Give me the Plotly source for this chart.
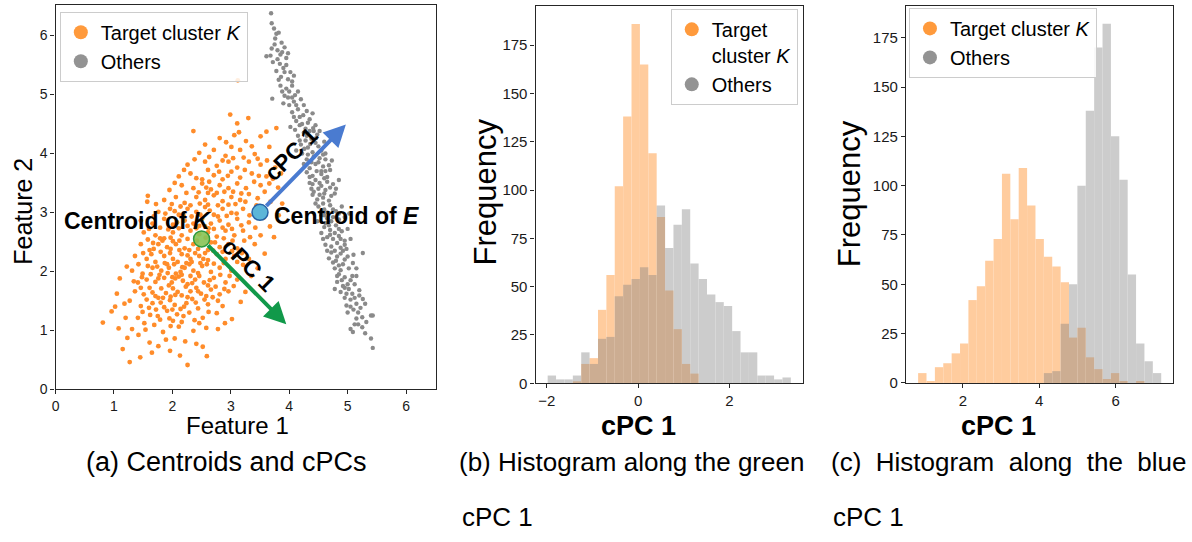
import numpy as np
import plotly.graph_objects as go

W, H = 1192, 542
FONT = "Liberation Sans, Arial, Helvetica, sans-serif"

# ---------------- panel (a) data ----------------
orange_points = [
    (1.27,0.46),(2.26,0.41),(1.45,0.54),(2.59,0.56),(1.15,0.68),(0.81,1.13),(0.96,1.32),(1.08,1.03),(1.05,1.62),(1.10,1.88),
    (1.96,0.65),(2.22,0.81),(1.23,0.87),(1.42,0.92),(1.76,0.73),(2.04,0.86),(1.61,0.79),(2.41,0.77),(1.89,0.84),
    (2.58,1.04),(1.54,1.01),(1.84,0.97),(2.11,1.06),(2.36,0.99),(1.31,1.02),(1.69,1.09),(2.46,1.12),(1.97,1.07),
    (3.02,1.19),(1.41,1.21),(1.62,1.26),(1.79,1.18),(2.01,1.16),(2.19,1.24),(2.52,1.21),(2.76,1.29),(1.49,1.31),(1.91,1.33),(2.29,1.30),(2.08,1.27),(1.72,1.35),
    (1.27,1.50),(3.17,1.48),(1.46,1.41),(1.66,1.46),(1.86,1.39),(2.04,1.43),(2.24,1.46),(2.44,1.37),(2.61,1.44),(2.86,1.41),(1.56,1.52),(1.96,1.51),(2.34,1.53),(2.69,1.56),(2.14,1.36),(1.76,1.55),
    (1.36,1.66),(1.51,1.61),(1.71,1.58),(1.89,1.63),(2.01,1.71),(2.16,1.59),(2.31,1.66),(2.49,1.62),(2.66,1.69),(2.81,1.61),(2.96,1.66),(1.61,1.72),(1.81,1.71),(2.41,1.72),(2.09,1.65),(1.97,1.57),(2.23,1.74),
    (1.41,1.81),(1.56,1.86),(1.71,1.82),(1.86,1.89),(1.99,1.81),(2.11,1.91),(2.26,1.78),(2.39,1.86),(2.54,1.81),(2.71,1.89),(2.91,1.81),(3.11,1.86),(1.94,1.76),(2.31,1.92),(2.61,1.76),(2.18,1.84),(1.78,1.94),(2.05,1.88),
    (1.31,2.01),(1.49,1.96),(1.66,2.06),(1.81,2.01),(1.94,2.06),(2.06,1.96),(2.21,2.06),(2.36,2.01),(2.51,2.09),(2.66,1.99),(2.81,2.06),(3.01,2.01),(3.21,2.11),(1.91,2.12),(2.29,2.12),(2.59,2.12),(2.14,1.99),(1.58,2.09),(2.44,1.97),
    (1.36,2.26),(1.56,2.21),(1.71,2.16),(1.86,2.26),(2.01,2.21),(2.16,2.29),(2.31,2.21),(2.46,2.26),(2.61,2.19),(2.76,2.29),(2.91,2.21),(3.06,2.26),(3.31,2.21),(2.09,2.16),(2.39,2.31),(1.96,2.31),(2.56,2.31),(2.24,2.14),(1.64,2.29),
    (1.46,2.46),(1.61,2.36),(1.76,2.46),(1.91,2.41),(2.06,2.46),(2.21,2.39),(2.36,2.46),(2.66,2.49),(2.81,2.41),(2.96,2.46),(3.11,2.39),(3.41,2.46),(2.29,2.36),(2.61,2.36),(2.01,2.51),(1.83,2.52),(3.23,2.52),
    (1.51,2.66),(1.71,2.61),(1.86,2.56),(2.01,2.66),(2.16,2.61),(2.31,2.69),(2.46,2.63),(2.61,2.66),(2.76,2.59),(2.91,2.69),(3.06,2.61),(3.21,2.69),(3.51,2.61),(2.41,2.73),(2.71,2.72),(3.67,2.76),(1.93,2.71),
    (1.46,2.86),(1.66,2.81),(1.86,2.89),(2.01,2.79),(2.21,2.86),(2.36,2.81),(2.51,2.89),(2.66,2.81),(2.81,2.86),(2.96,2.79),(3.11,2.89),(3.31,2.83),(3.56,2.91),(2.11,2.73),(2.56,2.76),(3.82,2.95),
    (1.57,3.18),(1.76,3.01),(1.96,3.06),(2.11,2.96),(2.26,3.06),(2.41,3.01),(2.56,3.09),(2.71,2.96),(2.86,3.06),(3.01,2.99),(3.21,3.06),(3.44,3.12),(2.61,3.13),(2.31,3.12),(3.68,3.18),
    (1.58,3.28),(1.86,3.21),(2.06,3.26),(2.21,3.16),(2.41,3.26),(2.56,3.21),(2.71,3.29),(2.86,3.19),(3.01,3.26),(3.16,3.21),(3.31,3.31),(2.61,3.33),(2.96,3.13),(3.58,3.35),
    (1.95,3.38),(2.16,3.46),(2.36,3.41),(2.51,3.49),(2.66,3.39),(2.81,3.46),(2.96,3.41),(3.11,3.49),(3.26,3.41),(3.51,3.46),(2.76,3.33),(3.81,3.42),
    (2.11,3.61),(2.31,3.66),(2.51,3.56),(2.71,3.63),(2.86,3.56),(3.01,3.69),(3.16,3.59),(3.36,3.66),(3.61,3.61),(2.61,3.72),(3.86,3.66),
    (2.26,3.81),(2.56,3.86),(2.76,3.79),(2.96,3.86),(3.11,3.76),(3.31,3.86),(3.51,3.81),(3.76,3.76),
    (2.46,4.01),(2.71,4.06),(2.91,3.96),(3.16,4.06),(3.41,3.99),(3.66,4.11),(3.01,4.11),
    (2.81,4.26),(3.06,4.31),(3.26,4.21),(3.51,4.29),(3.78,4.43),(3.61,4.37),(2.36,4.38),
    (2.99,4.66),(3.30,4.60),(3.12,5.24),(3.11,4.51),
    (1.52,1.12),(1.75,1.24),(1.95,1.20),(2.16,1.14),(2.38,1.17),(2.62,1.31),(1.60,1.38),(1.80,1.47),(2.00,1.35),(2.20,1.40),(2.40,1.47),(2.55,1.52),(2.78,1.50),
    (1.46,1.72),(1.66,1.64),(1.84,1.55),(2.05,1.60),(2.26,1.56),(2.44,1.66),(2.58,1.58),(2.74,1.74),(2.89,1.70),(3.05,1.75),
    (1.48,1.90),(1.63,1.95),(1.76,1.88),(1.92,1.97),(2.00,1.90),(2.16,1.94),(2.34,1.80),(2.46,1.92),(2.64,1.85),(2.82,1.94),(2.98,1.92),
    (1.42,2.12),(1.74,2.08),(1.87,2.14),(2.03,2.12),(2.17,2.07),(2.33,2.16),(2.48,2.14),(2.71,2.13),(2.88,2.14),(3.11,2.16),
    (1.50,2.31),(1.68,2.38),(1.80,2.33),(1.97,2.38),(2.12,2.36),(2.26,2.27),(2.44,2.38),(2.53,2.21),(2.70,2.35),(2.86,2.33),(3.02,2.34),(3.19,2.31),
    (1.58,2.54),(1.67,2.48),(1.79,2.56),(1.97,2.57),(2.12,2.52),(2.26,2.55),(2.42,2.52),(2.57,2.57),(2.73,2.49),(2.88,2.56),(3.03,2.52),(3.33,2.58),
    (1.60,2.72),(1.79,2.74),(2.08,2.83),(2.26,2.77),(2.46,2.77),(2.62,2.73),(2.86,2.74),(3.02,2.72),(3.18,2.78),(3.42,2.74),
    (1.68,2.93),(1.88,2.98),(2.04,3.02),(2.19,2.95),(2.33,2.93),(2.48,2.96),(2.64,3.03),(2.78,2.93),(2.93,2.94),(3.10,2.98),(3.32,2.95),
    (1.72,3.14),(1.99,3.14),(2.14,3.10),(2.47,3.15),(2.78,3.12),(3.08,3.14),(3.25,3.18),(3.46,3.24),
    (2.04,3.50),(2.24,3.33),(2.45,3.34),(2.58,3.42),(2.89,3.35),(3.04,3.35),(3.18,3.32),(3.40,3.52),(3.66,3.49),
    (2.20,3.72),(2.41,3.58),(2.63,3.52),(2.80,3.69),(2.95,3.62),(3.24,3.72),(3.48,3.62),(3.72,3.57),
    (2.38,3.90),(2.63,3.94),(2.86,3.88),(3.04,3.92),(3.22,3.93),(3.46,3.91),(3.62,3.88),
    (2.56,4.15),(2.92,4.19),(3.36,4.12),(3.14,4.36),
    (1.20,1.21),(1.18,1.45),(1.34,1.83),(1.22,2.08),(1.02,1.40),(1.65,0.62),(2.13,0.57),(2.52,0.72),(2.78,1.02),(2.90,1.12),
    (3.25,1.65),(3.35,1.92),(3.46,2.05),(3.58,2.30),(3.74,2.58),(3.88,3.15),
]

gray_points = [
    (3.69,6.38),(3.70,6.21),(3.78,6.03),(3.82,6.05),(3.74,6.12),
    (3.87,5.88),(3.61,5.65),(3.68,5.66),(3.80,5.75),(3.92,5.80),(3.75,5.85),(3.85,5.68),(3.95,5.62),
    (3.84,5.52),(3.78,5.40),(3.90,5.45),(3.98,5.26),(4.02,5.38),(3.86,5.30),(3.72,5.55),(3.95,5.50),(4.05,5.22),(3.82,5.25),
    (4.10,4.99),(3.71,4.93),(3.95,5.10),(4.05,5.15),(3.98,4.95),(4.15,5.05),(3.90,4.85),(4.08,4.88),(4.20,4.92),(4.00,4.82),(3.88,5.05),
    (4.24,4.65),(4.41,4.43),(4.05,4.70),(4.15,4.75),(4.30,4.72),(4.12,4.55),(4.22,4.50),(4.35,4.58),(4.02,4.45),(4.28,4.42),(4.18,4.62),(4.40,4.68),(4.10,4.40),
    (4.15,4.30),(4.25,4.35),(4.38,4.25),(4.48,4.32),(4.20,4.15),(4.32,4.10),(4.45,4.18),(4.55,4.05),(4.12,4.05),(4.28,4.22),(4.40,4.02),(4.52,4.38),(4.35,4.38),(4.22,4.00),(4.60,4.20),
    (4.58,3.98),(4.30,3.90),(4.42,3.95),(4.50,3.85),(4.62,3.90),(4.35,3.75),(4.47,3.70),(4.58,3.78),(4.70,3.72),(4.25,3.82),(4.40,3.62),(4.55,3.65),(4.65,3.60),(4.38,3.85),(4.52,3.92),(4.73,3.88),
    (4.75,3.48),(4.35,3.50),(4.45,3.55),(4.55,3.45),(4.65,3.52),(4.42,3.35),(4.52,3.30),(4.62,3.38),(4.72,3.28),(4.80,3.40),(4.48,3.22),(4.58,3.25),(4.68,3.20),(4.38,3.40),(4.85,3.55),(4.60,3.58),
    (5.03,2.98),(4.50,3.10),(4.60,3.05),(4.70,3.12),(4.80,3.02),(4.55,2.95),(4.65,2.90),(4.75,2.92),(4.85,2.88),(4.48,2.85),(4.62,2.82),(4.90,3.10),(4.58,3.15),(4.72,2.85),(4.95,2.92),
    (4.60,2.75),(4.70,2.70),(4.80,2.78),(4.90,2.68),(4.65,2.58),(4.75,2.55),(4.85,2.60),(4.95,2.52),(4.62,2.45),(4.72,2.42),(4.82,2.48),(5.00,2.72),(4.55,2.65),(4.88,2.40),(5.05,2.55),
    (5.26,2.31),(5.09,2.14),(4.72,2.32),(4.82,2.25),(4.92,2.35),(4.75,2.15),(4.85,2.10),(4.95,2.20),(5.02,2.05),(4.68,2.22),(4.88,2.02),(5.10,2.28),(4.78,2.05),(4.98,2.38),
    (4.85,1.95),(4.95,1.90),(5.05,1.85),(4.82,1.82),(4.92,1.75),(5.02,1.70),(5.12,1.78),(4.88,1.65),(4.98,1.62),(5.15,1.92),(4.78,1.70),(5.20,1.68),
    (5.20,1.59),(5.26,1.53),(5.40,1.25),(4.98,1.42),(5.05,1.52),(5.15,1.45),(5.00,1.30),(5.10,1.35),(5.22,1.38),(5.15,1.20),(4.95,1.55),(5.30,1.45),
    (5.32,1.14),(5.40,0.86),(5.43,0.70),(5.43,1.25),(5.09,0.97),(5.25,1.05),(5.18,1.10),(5.30,0.95),(5.05,1.02),
    (3.76,5.95),(3.88,5.72),(3.70,5.78),(3.92,5.38),(3.80,5.60),(4.00,5.05),(4.08,5.32),(3.92,4.98),(4.12,4.82),(4.25,4.82),
    (4.18,4.48),(4.32,4.52),(4.08,4.62),(4.45,4.48),(4.30,4.30),(4.42,4.38),(4.18,4.22),(4.36,4.16),(4.50,4.12),(4.26,4.08),
    (4.46,4.26),(4.32,3.98),(4.45,3.82),(4.55,3.70),(4.68,3.80),(4.30,3.68),(4.62,3.70),(4.40,3.48),(4.50,3.40),(4.60,3.32),
    (4.70,3.42),(4.78,3.32),(4.52,3.50),(4.45,3.15),(4.55,3.02),(4.65,3.00),(4.75,3.05),(4.85,2.98),(4.68,2.78),(4.78,2.65),
    (4.58,2.55),(4.88,2.55),(4.70,2.62),(4.78,2.35),(4.88,2.30),(4.80,2.18),(4.92,2.12),(5.00,2.25),(4.82,1.92),(4.90,1.85),
    (5.00,1.78),(5.08,1.92),(4.95,1.72),(5.08,1.62),(5.12,1.55),(5.05,1.40),(5.18,1.30),(5.25,1.22),(5.12,1.10),(4.95,2.45),
    (4.60,2.95),(4.40,3.30),(4.35,3.60),(4.62,4.00),(4.05,4.95),(3.85,5.15),(3.98,5.70),(4.85,2.72),(4.65,2.35),(5.15,2.05),
]

centroid_K = (2.50, 2.55)
centroid_E = (3.50, 3.00)
green_cpc_tip = (3.95, 1.10)
blue_cpc_tip = (4.97, 4.49)

# ---------------- panel (b) data: histogram along the green cPC 1 ----------------
b_bin_start = -1.98
b_bin_width = 0.1836
b_orange_counts = [0, 0, 0, 1, 10, 13, 38, 56, 102, 138, 186, 165, 119, 86, 48, 28, 10, 5,
                   0, 0, 0, 0, 0, 0, 0, 0, 0, 0, 0]
b_gray_counts = [4, 2, 2, 4, 16, 10, 23, 24, 45, 51, 54, 60, 56, 92, 70, 82, 90, 62,
                 54, 46, 42, 40, 27, 16, 16, 4, 4, 2, 3]

# ---------------- panel (c) data: histogram along the blue cPC 1 ----------------
c_bin_start = 0.828
c_bin_width = 0.2195
c_orange_counts = [5, 1, 8, 10, 15, 20, 42, 49, 62, 73, 106, 83, 109, 90, 73, 64, 59, 51,
                   23, 28, 13, 7, 2, 5, 1, 0, 1, 0, 0]
c_gray_counts = [0, 0, 0, 0, 0, 0, 0, 0, 0, 0, 0, 0, 0, 0, 0, 5, 6, 30,
                 50, 100, 138, 170, 182, 125, 103, 55, 20, 11, 5]

hist_yticks = [0, 25, 50, 75, 100, 125, 150, 175]

# ---------------- styles ----------------
ORANGE_PT = "#ff8c2a"
GRAY_PT = "#8a8a8a"
ORANGE_LEG = "#ff9a3c"
GRAY_LEG = "#939393"
HIST_ORANGE = "#ff7f0e"
HIST_GRAY = "#808080"
GREEN = "#11994a"
BLUE = "#4a7bd0"
AXC = "#262626"


def px(v):
    return v / W


def py(v):
    return 1 - v / H


def centers(start, width, n):
    return start + width * (np.arange(n) + 0.5)


fig = go.Figure()

ox, oy = zip(*orange_points)
gx, gy = zip(*gray_points)
fig.add_trace(go.Scatter(x=ox, y=oy, mode="markers", showlegend=False,
                         marker=dict(size=4.8, color=ORANGE_PT, line=dict(width=0)),
                         xaxis="x", yaxis="y"))
fig.add_trace(go.Scatter(x=gx, y=gy, mode="markers", showlegend=False,
                         marker=dict(size=4.4, color=GRAY_PT, line=dict(width=0)),
                         xaxis="x", yaxis="y"))
fig.add_trace(go.Scatter(x=[centroid_K[0]], y=[centroid_K[1]], mode="markers", showlegend=False,
                         marker=dict(size=16, color="rgba(135,195,85,0.9)", line=dict(width=1.5, color="#2f9a3c")),
                         xaxis="x", yaxis="y"))
fig.add_trace(go.Scatter(x=[centroid_E[0]], y=[centroid_E[1]], mode="markers", showlegend=False,
                         marker=dict(size=16, color="#5db6d8", line=dict(width=1.5, color="#2662a6")),
                         xaxis="x", yaxis="y"))

# legend entries
for leg, ax, ay, tname in [("legend", "x", "y", "Target cluster <i>K</i>"),
                           ("legend2", "x2", "y2", "Target<br>cluster <i>K</i>"),
                           ("legend3", "x3", "y3", "Target cluster <i>K</i>")]:
    fig.add_trace(go.Scatter(x=[None], y=[None], mode="markers", name=tname, legend=leg,
                             marker=dict(size=14, color=ORANGE_LEG), xaxis=ax, yaxis=ay))
    fig.add_trace(go.Scatter(x=[None], y=[None], mode="markers", name="Others", legend=leg,
                             marker=dict(size=14, color=GRAY_LEG), xaxis=ax, yaxis=ay))

# histograms
n_b = len(b_gray_counts)
n_c = len(c_gray_counts)
fig.add_trace(go.Bar(x=centers(b_bin_start, b_bin_width, n_b), y=b_orange_counts, width=b_bin_width,
                     marker=dict(color=HIST_ORANGE, line=dict(width=0)), opacity=0.4,
                     showlegend=False, xaxis="x2", yaxis="y2"))
fig.add_trace(go.Bar(x=centers(b_bin_start, b_bin_width, n_b), y=b_gray_counts, width=b_bin_width,
                     marker=dict(color=HIST_GRAY, line=dict(width=0)), opacity=0.4,
                     showlegend=False, xaxis="x2", yaxis="y2"))
fig.add_trace(go.Bar(x=centers(c_bin_start, c_bin_width, n_c), y=c_orange_counts, width=c_bin_width,
                     marker=dict(color=HIST_ORANGE, line=dict(width=0)), opacity=0.4,
                     showlegend=False, xaxis="x3", yaxis="y3"))
fig.add_trace(go.Bar(x=centers(c_bin_start, c_bin_width, n_c), y=c_gray_counts, width=c_bin_width,
                     marker=dict(color=HIST_GRAY, line=dict(width=0)), opacity=0.4,
                     showlegend=False, xaxis="x3", yaxis="y3"))

b_lo = b_bin_start
b_hi = b_bin_start + n_b * b_bin_width
c_lo = c_bin_start
c_hi = c_bin_start + n_c * c_bin_width
b_pad = 0.05 * (b_hi - b_lo)
c_pad = 0.05 * (c_hi - c_lo)


def axis_style(tsize):
    return dict(showline=True, mirror=True, linecolor=AXC, linewidth=1.2, ticks="outside",
                ticklen=4, tickwidth=1.2, tickcolor=AXC, showgrid=False, zeroline=False,
                tickfont=dict(family=FONT, size=tsize, color="#1a1a1a"))


fig.update_layout(
    width=W, height=H, margin=dict(l=0, r=0, t=0, b=0),
    paper_bgcolor="white", plot_bgcolor="white", barmode="overlay",
    font=dict(family=FONT, color="black"),
    xaxis=dict(domain=[px(51.7), px(433.3)], range=[0, 6.51], tickvals=[0, 1, 2, 3, 4, 5, 6], anchor="y", **axis_style(14)),
    yaxis=dict(domain=[py(395), py(5)], range=[0, 6.52], tickvals=[0, 1, 2, 3, 4, 5, 6], anchor="x", **axis_style(14)),
    xaxis2=dict(domain=[px(533.3), px(801.7)], range=[b_lo - b_pad, b_hi + b_pad], tickvals=[-2, 0, 2], anchor="y2", **axis_style(15)),
    yaxis2=dict(domain=[py(389), py(6)], range=[0, max(b_orange_counts) * 1.05], tickvals=hist_yticks, anchor="x2", **axis_style(15)),
    xaxis3=dict(domain=[px(905), px(1173.3)], range=[c_lo - c_pad, c_hi + c_pad], tickvals=[2, 4, 6], anchor="y3", **axis_style(15)),
    yaxis3=dict(domain=[py(388.7), py(6)], range=[0, max(c_gray_counts) * 1.05], tickvals=hist_yticks, anchor="x3", **axis_style(15)),
)

legend_common = dict(xanchor="left", yanchor="top", bgcolor="rgba(255,255,255,0.85)",
                     bordercolor="#cccccc", borderwidth=1, itemwidth=30, tracegroupgap=0,
                     font=dict(family=FONT, size=20, color="black"))
fig.update_layout(
    legend=dict(x=px(56), y=py(12), **legend_common),
    legend2=dict(x=px(669), y=py(9), valign="top", **legend_common),
    legend3=dict(x=px(908), y=py(8), **legend_common),
)

ann = []
# cPC arrows
ann.append(dict(x=green_cpc_tip[0], y=green_cpc_tip[1], ax=centroid_K[0], ay=centroid_K[1],
                xref="x", yref="y", axref="x", ayref="y", text="", showarrow=True,
                arrowhead=2, arrowsize=1.1, arrowwidth=4, arrowcolor=GREEN, startstandoff=7))
ann.append(dict(x=blue_cpc_tip[0], y=blue_cpc_tip[1], ax=centroid_E[0], ay=centroid_E[1],
                xref="x", yref="y", axref="x", ayref="y", text="", showarrow=True,
                arrowhead=2, arrowsize=1.1, arrowwidth=4, arrowcolor=BLUE, startstandoff=7))
bold = dict(family=FONT, size=23, color="black")
ann.append(dict(x=2.69, y=2.86, xref="x", yref="y", text="<b>Centroid of <i>K</i></b>",
                showarrow=False, xanchor="right", yanchor="middle", font=bold))
ann.append(dict(x=3.71, y=2.94, xref="x", yref="y", text="<b>Centroid of <i>E</i></b>",
                showarrow=False, xanchor="left", yanchor="middle", font=bold))
ann.append(dict(x=4.03, y=3.99, xref="x", yref="y", text="<b>cPC 1</b>", textangle=-45,
                showarrow=False, xanchor="center", yanchor="middle", font=bold))
ann.append(dict(x=3.31, y=2.11, xref="x", yref="y", text="<b>cPC 1</b>", textangle=45,
                showarrow=False, xanchor="center", yanchor="middle", font=bold))

# axis titles
ann.append(dict(x=px(234), y=py(432), xref="paper", yref="paper", text="Feature 1", showarrow=False,
                xanchor="center", yanchor="middle", font=dict(family=FONT, size=24)))
ann.append(dict(x=px(19), y=py(214), xref="paper", yref="paper", text="Feature 2", showarrow=False,
                textangle=-90, xanchor="center", yanchor="middle", font=dict(family=FONT, size=25)))
ann.append(dict(x=px(483), y=py(195), xref="paper", yref="paper", text="Frequency", showarrow=False,
                textangle=-90, xanchor="center", yanchor="middle", font=dict(family=FONT, size=31)))
ann.append(dict(x=px(848), y=py(197), xref="paper", yref="paper", text="Frequency", showarrow=False,
                textangle=-90, xanchor="center", yanchor="middle", font=dict(family=FONT, size=31)))
ann.append(dict(x=px(637), y=py(432), xref="paper", yref="paper", text="<b>cPC 1</b>", showarrow=False,
                xanchor="center", yanchor="middle", font=dict(family=FONT, size=27)))
ann.append(dict(x=px(998), y=py(432), xref="paper", yref="paper", text="<b>cPC 1</b>", showarrow=False,
                xanchor="center", yanchor="middle", font=dict(family=FONT, size=27)))

# captions
cap = dict(family=FONT, size=26, color="black")
NB = "\u00a0"
ann.append(dict(x=px(80), y=py(469), xref="paper", yref="paper", text="(a) Centroids and cPCs",
                showarrow=False, xanchor="left", yanchor="middle", font=dict(family=FONT, size=27, color="black")))
ann.append(dict(x=px(455), y=py(469), xref="paper", yref="paper", text="(b) Histogram along the green",
                showarrow=False, xanchor="left", yanchor="middle", font=cap))
ann.append(dict(x=px(828), y=py(469), xref="paper", yref="paper",
                text=f"(c){NB} Histogram{NB} along{NB} the{NB} blue",
                showarrow=False, xanchor="left", yanchor="middle", font=cap))
ann.append(dict(x=px(458), y=py(525), xref="paper", yref="paper", text="cPC 1",
                showarrow=False, xanchor="left", yanchor="middle", font=cap))
ann.append(dict(x=px(830), y=py(525), xref="paper", yref="paper", text="cPC 1",
                showarrow=False, xanchor="left", yanchor="middle", font=cap))

fig.update_layout(annotations=ann)
fig.write_html("out.html")
